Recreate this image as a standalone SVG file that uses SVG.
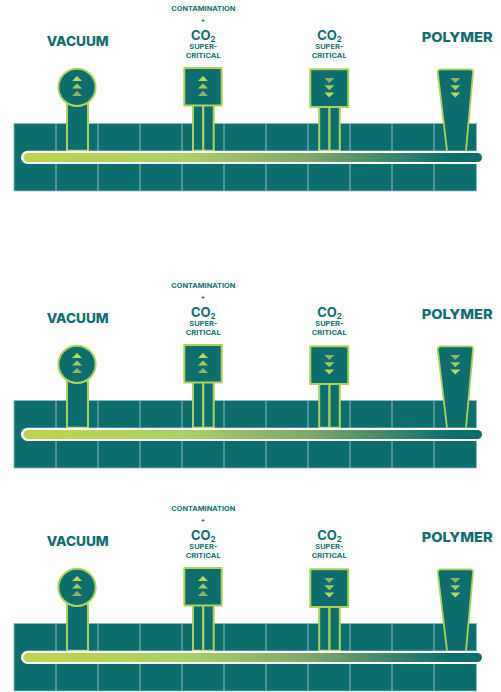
<svg xmlns="http://www.w3.org/2000/svg" width="501" height="692" viewBox="0 0 501 692">
<style>
.band{fill:#0e6e6e}
.edge{fill:none;stroke:#8dbaba;stroke-width:.8}
.grid{stroke:#8fbcbc;stroke-width:1;fill:none}
.shape{fill:#0e6e6e;stroke:#a9d35c;stroke-width:2;stroke-linejoin:round}
.open{fill:#0e6e6e;stroke:#a9d35c;stroke-width:1.8;stroke-linejoin:round}
.tubew{fill:#fff}
text{font-family:Inter,"Liberation Sans",sans-serif;font-weight:800;fill:#0f6e70;text-anchor:middle}
.big{font-size:13.5px}
.co{font-size:13px;font-weight:700}
.co tspan{font-size:8px}
.small{font-size:6.4px;font-weight:700}
.a1{fill:#b9d956}.a2{fill:#a4c862}.a3{fill:#8fb268}
</style>
<defs>
<linearGradient id="tube" gradientUnits="userSpaceOnUse" x1="22" y1="0" x2="482" y2="0">
<stop offset="0" stop-color="#bcd64a"/>
<stop offset=".36" stop-color="#a8d066"/>
<stop offset=".62" stop-color="#7fa86c"/>
<stop offset=".93" stop-color="#0e6e6e"/>
</linearGradient>
<g id="grid">
<rect class="band" x="14" y="123.5" width="462.5" height="67.5"/>
<rect class="edge" x="14" y="123.5" width="462.5" height="67.5"/>
<path class="grid" d="M56 123.5V191M98 123.5V191M140 123.5V191M182 123.5V191M224 123.5V191M266 123.5V191M308 123.5V191M350 123.5V191M392 123.5V191M434 123.5V191"/>
</g>
<g id="up">
<path class="a1" d="M0 0l5 5h-10z"/>
<path class="a2" d="M0 7.5l5 5h-10z"/>
<path class="a3" d="M0 15l5 5h-10z"/>
</g>
<g id="down">
<path class="a3" d="M0 5l5-5h-10z"/>
<path class="a2" d="M0 12.3l5-5h-10z"/>
<path class="a1" d="M0 19.6l5-5h-10z"/>
</g>
<g id="tube-shape">
<rect class="tubew" x="21" y="150.8" width="461" height="13.2" rx="6.6"/>
<rect fill="url(#tube)" x="23.5" y="153" width="458.5" height="9" rx="4.5"/>
</g>
</defs>

<g id="panel-1">
<g id="band-1"><use href="#grid"/></g>
<g id="vacuum-1">
<rect class="shape" x="67" y="104" width="21" height="46.7"/>
<circle class="shape" cx="77" cy="87.3" r="18.6"/>
<use href="#up" x="77" y="76"/>
<text class="big" x="77.7" y="46.4" textLength="62" lengthAdjust="spacingAndGlyphs">VACUUM</text>
</g>
<g id="contamination-1">
<rect class="shape" x="193" y="105" width="10.3" height="45.7"/>
<rect class="shape" x="203.3" y="105" width="10.4" height="45.7"/>
<rect class="shape" x="184.3" y="68" width="37.4" height="37.4"/>
<use href="#up" x="203" y="76"/>
<text class="small" x="203.3" y="10.7" textLength="64" lengthAdjust="spacingAndGlyphs">CONTAMINATION</text>
<text class="small" x="203" y="22.3">+</text>
<text class="co" x="203.3" y="39.8">CO<tspan dy="2">2</tspan></text>
<text class="small" x="203.3" y="49" textLength="28" lengthAdjust="spacingAndGlyphs">SUPER-</text>
<text class="small" x="203.2" y="58" textLength="35" lengthAdjust="spacingAndGlyphs">CRITICAL</text>
</g>
<g id="co2-1">
<rect class="shape" x="319.2" y="107" width="10.3" height="43.7"/>
<rect class="shape" x="329.5" y="107" width="10.3" height="43.7"/>
<rect class="shape" x="310.3" y="69.3" width="38" height="37.7"/>
<use href="#down" x="329.3" y="78"/>
<text class="co" x="329.5" y="39.8">CO<tspan dy="2">2</tspan></text>
<text class="small" x="329.3" y="49" textLength="28" lengthAdjust="spacingAndGlyphs">SUPER-</text>
<text class="small" x="329.2" y="58" textLength="35" lengthAdjust="spacingAndGlyphs">CRITICAL</text>
</g>
<g id="polymer-1">
<path class="open" d="M447 150.7L437.8 73Q437.4 69.3 441 69.3H470Q473.6 69.3 473 73L466 150.7"/>
<use href="#down" x="455.3" y="78"/>
<text class="big" x="457.2" y="42.2" textLength="71" lengthAdjust="spacingAndGlyphs">POLYMER</text>
</g>
<g id="connectors-1"><use href="#tube-shape"/></g>
</g>

<g id="panel-2" transform="translate(0 277)">
<g id="band-2"><use href="#grid"/></g>
<g id="vacuum-2">
<rect class="shape" x="67" y="104" width="21" height="46.7"/>
<circle class="shape" cx="77" cy="87.3" r="18.6"/>
<use href="#up" x="77" y="76"/>
<text class="big" x="77.7" y="46.4" textLength="62" lengthAdjust="spacingAndGlyphs">VACUUM</text>
</g>
<g id="contamination-2">
<rect class="shape" x="193" y="105" width="10.3" height="45.7"/>
<rect class="shape" x="203.3" y="105" width="10.4" height="45.7"/>
<rect class="shape" x="184.3" y="68" width="37.4" height="37.4"/>
<use href="#up" x="203" y="76"/>
<text class="small" x="203.3" y="10.7" textLength="64" lengthAdjust="spacingAndGlyphs">CONTAMINATION</text>
<text class="small" x="203" y="22.3">+</text>
<text class="co" x="203.3" y="39.8">CO<tspan dy="2">2</tspan></text>
<text class="small" x="203.3" y="49" textLength="28" lengthAdjust="spacingAndGlyphs">SUPER-</text>
<text class="small" x="203.2" y="58" textLength="35" lengthAdjust="spacingAndGlyphs">CRITICAL</text>
</g>
<g id="co2-2">
<rect class="shape" x="319.2" y="107" width="10.3" height="43.7"/>
<rect class="shape" x="329.5" y="107" width="10.3" height="43.7"/>
<rect class="shape" x="310.3" y="69.3" width="38" height="37.7"/>
<use href="#down" x="329.3" y="78"/>
<text class="co" x="329.5" y="39.8">CO<tspan dy="2">2</tspan></text>
<text class="small" x="329.3" y="49" textLength="28" lengthAdjust="spacingAndGlyphs">SUPER-</text>
<text class="small" x="329.2" y="58" textLength="35" lengthAdjust="spacingAndGlyphs">CRITICAL</text>
</g>
<g id="polymer-2">
<path class="open" d="M447 150.7L437.8 73Q437.4 69.3 441 69.3H470Q473.6 69.3 473 73L466 150.7"/>
<use href="#down" x="455.3" y="78"/>
<text class="big" x="457.2" y="42.2" textLength="71" lengthAdjust="spacingAndGlyphs">POLYMER</text>
</g>
<g id="connectors-2"><use href="#tube-shape"/></g>
</g>

<g id="panel-3" transform="translate(0 500)">
<g id="band-3"><use href="#grid"/></g>
<g id="vacuum-3">
<rect class="shape" x="67" y="104" width="21" height="46.7"/>
<circle class="shape" cx="77" cy="87.3" r="18.6"/>
<use href="#up" x="77" y="76"/>
<text class="big" x="77.7" y="46.4" textLength="62" lengthAdjust="spacingAndGlyphs">VACUUM</text>
</g>
<g id="contamination-3">
<rect class="shape" x="193" y="105" width="10.3" height="45.7"/>
<rect class="shape" x="203.3" y="105" width="10.4" height="45.7"/>
<rect class="shape" x="184.3" y="68" width="37.4" height="37.4"/>
<use href="#up" x="203" y="76"/>
<text class="small" x="203.3" y="10.7" textLength="64" lengthAdjust="spacingAndGlyphs">CONTAMINATION</text>
<text class="small" x="203" y="22.3">+</text>
<text class="co" x="203.3" y="39.8">CO<tspan dy="2">2</tspan></text>
<text class="small" x="203.3" y="49" textLength="28" lengthAdjust="spacingAndGlyphs">SUPER-</text>
<text class="small" x="203.2" y="58" textLength="35" lengthAdjust="spacingAndGlyphs">CRITICAL</text>
</g>
<g id="co2-3">
<rect class="shape" x="319.2" y="107" width="10.3" height="43.7"/>
<rect class="shape" x="329.5" y="107" width="10.3" height="43.7"/>
<rect class="shape" x="310.3" y="69.3" width="38" height="37.7"/>
<use href="#down" x="329.3" y="78"/>
<text class="co" x="329.5" y="39.8">CO<tspan dy="2">2</tspan></text>
<text class="small" x="329.3" y="49" textLength="28" lengthAdjust="spacingAndGlyphs">SUPER-</text>
<text class="small" x="329.2" y="58" textLength="35" lengthAdjust="spacingAndGlyphs">CRITICAL</text>
</g>
<g id="polymer-3">
<path class="open" d="M447 150.7L437.8 73Q437.4 69.3 441 69.3H470Q473.6 69.3 473 73L466 150.7"/>
<use href="#down" x="455.3" y="78"/>
<text class="big" x="457.2" y="42.2" textLength="71" lengthAdjust="spacingAndGlyphs">POLYMER</text>
</g>
<g id="connectors-3"><use href="#tube-shape"/></g>
</g>
</svg>
